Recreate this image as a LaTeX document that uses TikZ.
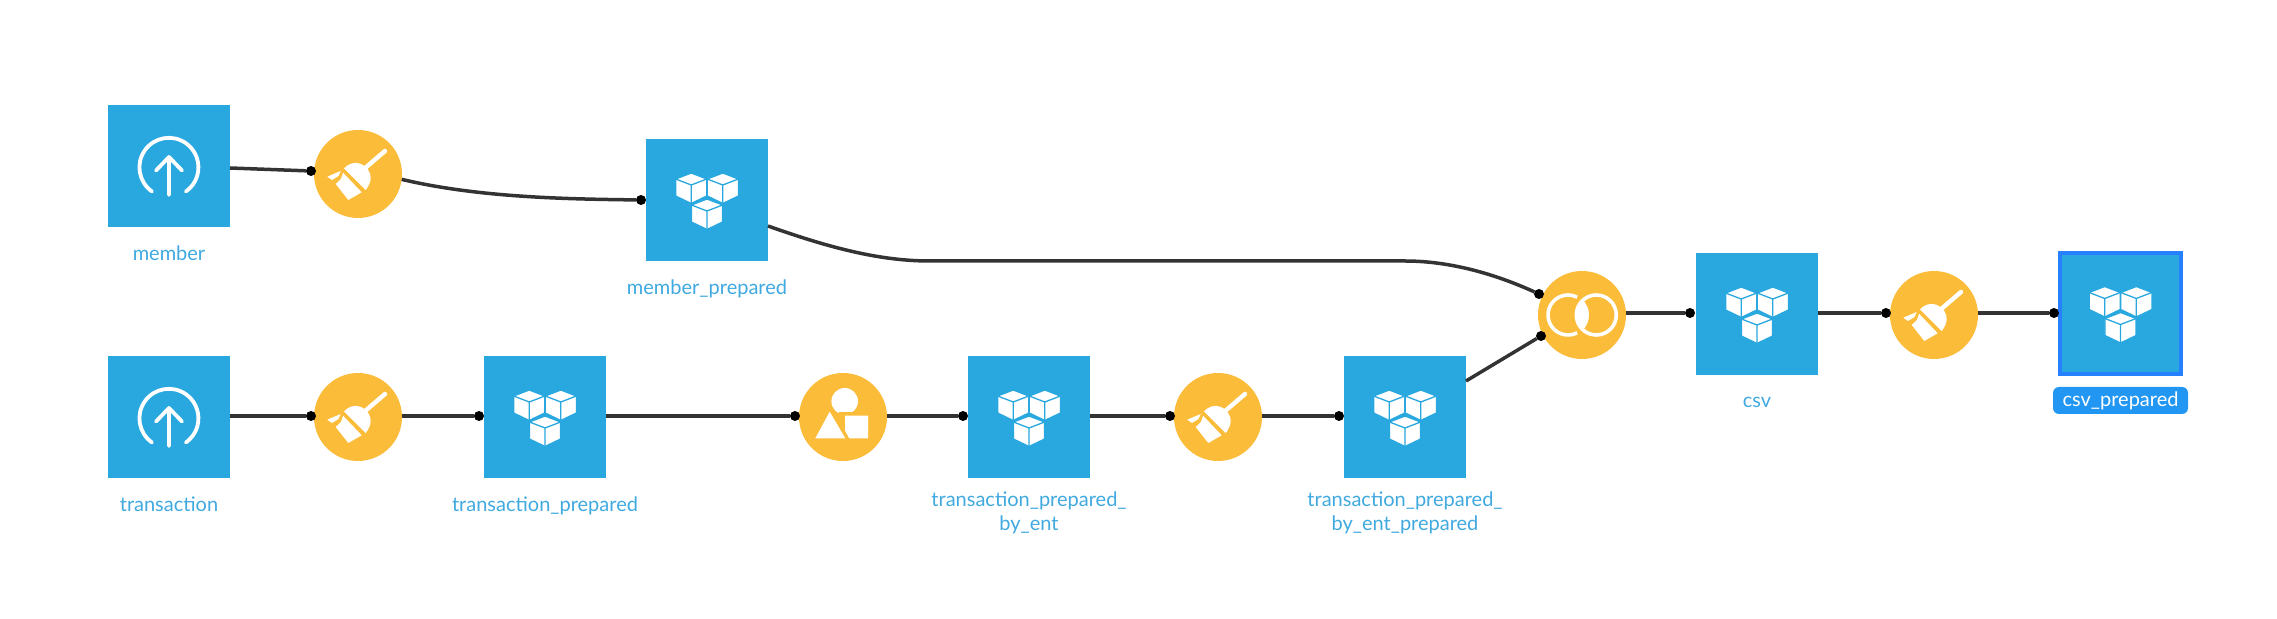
\documentclass[tikz,border=0pt]{standalone}
\usepackage{fontspec}
\setmainfont{Lato}
\definecolor{boxblue}{HTML}{29A8DF}
\definecolor{recipe}{HTML}{FBBC3A}
\definecolor{wire}{HTML}{333333}
\definecolor{labelblue}{HTML}{3FA9E0}
\definecolor{selblue}{HTML}{2680FF}
\definecolor{tagblue}{HTML}{2196F3}
\tikzset{
  dsbox/.style={rectangle,fill=boxblue,minimum size=61pt,inner sep=0pt,outer sep=0pt},
  selbox/.style={rectangle,fill=boxblue,draw=selblue,line width=1.75pt,minimum size=60.5pt,inner sep=0pt,outer sep=0pt},
  rcp/.style={circle,fill=recipe,minimum size=44pt,inner sep=0pt,outer sep=0pt},
  port/.style={circle,fill=black,minimum size=5pt,inner sep=0pt,outer sep=0pt},
  wireline/.style={draw=wire,line width=1.75pt},
  lbl/.style={text=labelblue,font=\fontsize{10}{12.3}\selectfont,align=center,inner sep=0pt},
  tag/.style={fill=tagblue,text=white,rounded corners=3pt,font=\fontsize{10}{12}\selectfont,minimum width=67.5pt,minimum height=13.5pt,inner sep=0pt},
  upic/.style={draw=white,line width=1.9pt,line cap=round,line join=round},
}
\newcommand{\cube}[3]{%
  \begin{scope}[shift={(#1,#2)}]
    \filldraw[fill=white,draw=#3,line width=.65pt,line join=round] (-15.6,6)--(0,0)--(15.6,6)--(15.6,23)--(0,30.5)--(-15.6,23)--cycle;
    \draw[#3,line width=.65pt] (-15.6,6)--(0,12)--(15.6,6) (0,12)--(0,30.5);
  \end{scope}}
\newcommand{\cubes}[1]{%
  \begin{scope}[shift={(#1)}]
    \cube{-15.8}{-27}{boxblue}\cube{15.8}{-27}{boxblue}\cube{0}{-1}{boxblue}
  \end{scope}}
\newcommand{\upload}[1]{%
  \begin{scope}[shift={(#1)}]
    \draw[upic] (-17,25.5) arc[start angle=125,end angle=415,radius=29.5];
    \draw[upic] (0,29)--(0,-9) (-13,4.5)--(0,-9)--(13,4.5);
  \end{scope}}
\newcommand{\broom}[1]{%
  \begin{scope}[shift={(#1)}]
    \draw[white,line width=2.2pt,line cap=round] (6,-5)--(27,-23);
    \fill[white] (-14,-5.7) .. controls (-10,-10) and (-3,-13) .. (3,-10) .. controls (9,-8) and (13,-1) .. (12.7,4.3) .. controls (12.5,9) and (10,13) .. (7.7,16) -- cycle;
    \fill[white] (-15,-1.3) -- (3.7,18.3) -- (-9.7,26) -- (-22.3,10) -- (-17,5) -- cycle;
    \fill[white] (-30.7,2.7) -- (-17.3,-3) -- (-19.5,2) -- (-26,6) -- cycle;
  \end{scope}}
\newcommand{\prep}[1]{%
  \begin{scope}[shift={(#1)}]
    \fill[white] (1.7,-15.7) circle (13.3);
    \fill[recipe] (-4,-5.3) rectangle (20,0);
    \fill[white] (-13.3,-5.3) -- (2.3,21.3) -- (-27.7,21.3) -- cycle;
    \fill[white] (2,-1.3) -- (25,-1.3) -- (25,21.3) -- (6.2,21.3) -- (2,13.5) -- cycle;
  \end{scope}}
\newcommand{\join}[1]{%
  \begin{scope}[shift={(#1)}]
    \draw[white,line width=1.8pt] (-14,0) +(63:20) arc[start angle=63,end angle=297,radius=20];
    \draw[white,line width=1.8pt] (14.3,0) circle (20);
    \begin{scope}
      \clip (-14,0) circle (21);
      \fill[white] (14.3,0) circle (21);
    \end{scope}
  \end{scope}}
\begin{document}
\begin{tikzpicture}[x=.5pt,y=.5pt,yscale=-1]
\useasboundingbox (0,0) rectangle (2277,619);
% boxes
\node[dsbox] (member) at (169,166) {};
\node[dsbox] (memberp) at (707,200) {};
\node[dsbox] (trans) at (169,417) {};
\node[dsbox] (transp) at (545,417) {};
\node[dsbox] (tpe) at (1029,417) {};
\node[dsbox] (tpep) at (1405,417) {};
\node[dsbox] (csv) at (1757,314) {};
\node[selbox] (csvp) at (2120.5,313.5) {};
% recipes
\node[rcp] (r1) at (358,174) {};
\node[rcp] (r2) at (358,417) {};
\node[rcp] (r3) at (843,417) {};
\node[rcp] (r4) at (1218,417) {};
\node[rcp] (r5) at (1582,315) {};
\node[rcp] (r6) at (1934,315) {};
% ports
\node[port] (p1) at (311,171) {};
\node[port] (p2) at (641,200) {};
\node[port] (p3) at (311,416) {};
\node[port] (p4) at (479,416) {};
\node[port] (p5) at (795,416) {};
\node[port] (p6) at (963,416) {};
\node[port] (p7) at (1170,416) {};
\node[port] (p8) at (1339,416) {};
\node[port] (p9) at (1539,294) {};
\node[port] (p10) at (1541,336) {};
\node[port] (p11) at (1690,313) {};
\node[port] (p12) at (1886,313) {};
\node[port] (p13) at (2054,313) {};
% connectors
\coordinate (mout) at (230,168);
\coordinate (mpout) at (768,226);
\coordinate (tpepout) at (1466,381);
\draw[wireline] (mout) -- (p1);
\draw[wireline] (r1.-7) .. controls (480,198) and (570,199) .. (p2);
\draw[wireline] (mpout) .. controls (830,248) and (880,261) .. (930,261) -- (1405,261) .. controls (1450,261) and (1495,274) .. (p9);
\draw[wireline] (trans.east) ++(0,-1) -- (p3);
\draw[wireline] (r2.east) ++(0,-1) -- (p4);
\draw[wireline] (transp.east) ++(0,-1) -- (p5);
\draw[wireline] (r3.east) ++(0,-1) -- (p6);
\draw[wireline] (tpe.east) ++(0,-1) -- (p7);
\draw[wireline] (r4.east) ++(0,-1) -- (p8);
\draw[wireline] (tpepout) -- (p10);
\draw[wireline] (r5.east) ++(0,-2) -- (p11);
\draw[wireline] (csv.east) ++(0,-1) -- (p12);
\draw[wireline] (r6.east) ++(0,-2) -- (p13);
% icons
\upload{member}\upload{trans}
\cubes{memberp}\cubes{transp}\cubes{tpe}\cubes{tpep}\cubes{csv}\cubes{csvp}
\broom{r1}\broom{r2}\broom{r4}\broom{r6}
\prep{r3}\join{r5}
% labels
\node[lbl] (lm) at (169,253) {member};
\node[lbl] (lmp) at (707,289) {member\_prepared};
\node[lbl] (lt) at (169,504) {transaction};
\node[lbl] (ltp) at (545,506) {transaction\_prepared};
\node[lbl] (ltpe) at (1029,513) {transaction\_prepared\_\\by\_ent};
\node[lbl] (ltpep) at (1405,513) {transaction\_prepared\_\\by\_ent\_prepared};
\node[lbl] (lcsv) at (1757,402) {csv};
\node[tag] (lcsvp) at (2120.5,400.5) {csv\_prepared};
\end{tikzpicture}
\end{document}
